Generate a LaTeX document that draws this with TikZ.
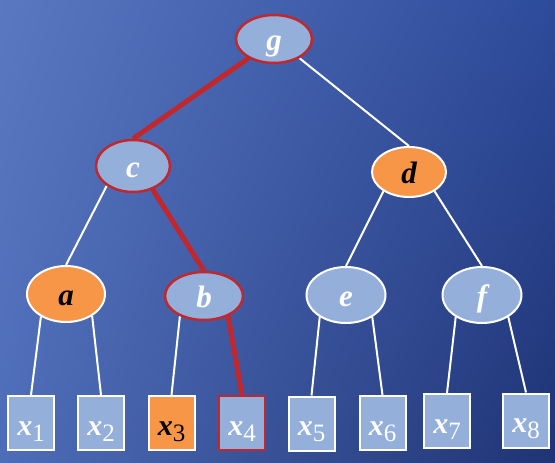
\documentclass[tikz,border=0pt]{standalone}
\usepackage{fontspec}
\setmainfont{Liberation Serif}
\usetikzlibrary{shapes.geometric,shadings,backgrounds}
\definecolor{nodefill}{HTML}{95AFDB}
\definecolor{orangefill}{HTML}{F79646}
\definecolor{hlred}{HTML}{C0282D}
\definecolor{bgul}{HTML}{5A77C1}
\definecolor{bgur}{HTML}{2D4B9B}
\definecolor{bgll}{HTML}{4E6DB8}
\definecolor{bglr}{HTML}{1F3374}
\newcommand\leafx[1]{\textbf{\textit{x}}\raisebox{-0.2em}{\fontsize{25}{25}\selectfont\mdseries\upshape #1}}
\begin{document}
\begin{tikzpicture}[x=1pt,y=-1pt,
  inode/.style={ellipse, draw=white, line width=2pt, fill=nodefill, inner sep=0pt,
    minimum width=76pt, minimum height=50pt, text=white,
    text height=22pt, text depth=0pt,
    font=\fontsize{31}{31}\selectfont\bfseries\itshape},
  leaf/.style={rectangle, draw=white, line width=2pt, fill=nodefill, inner sep=0pt,
    minimum width=46pt, minimum height=54pt, text=white,
    text height=24pt, text depth=0pt,
    font=\fontsize{30}{30}\selectfont},
  hl/.style={draw=hlred, line width=2.5pt},
  orng/.style={fill=orangefill, text=black},
  wedge/.style={draw=white, line width=2pt},
  redge/.style={draw=hlred, line width=5pt}]
\useasboundingbox (0,0) rectangle (555,463);
% internal nodes
\node[inode, hl, minimum width=76pt, minimum height=48pt] (g) at (274,39) {g};
\node[inode, hl, minimum width=74pt, minimum height=52pt] (c) at (133,166) {c};
\node[inode, orng, minimum width=74pt, minimum height=50pt] (d) at (409,172) {d};
\node[inode, orng, minimum width=78pt, minimum height=56pt] (a) at (66,294) {a};
\node[inode, hl, minimum width=78pt, minimum height=48pt] (b) at (204,296) {b};
\node[inode, minimum width=79pt, minimum height=56pt] (e) at (346,295) {e};
\node[inode, minimum width=79pt, minimum height=56pt] (f) at (482,295) {f};
% leaves
\node[leaf] (x1) at (31,423) {\leafx{1}};
\node[leaf] (x2) at (101,423) {\leafx{2}};
\node[leaf, orng] (x3) at (171.5,423) {\leafx{3}};
\node[leaf, hl] (x4) at (242,423) {\leafx{4}};
\node[leaf] (x5) at (311.5,423.5) {\leafx{5}};
\node[leaf] (x6) at (382.5,423) {\leafx{6}};
\node[leaf] (x7) at (447,421) {\leafx{7}};
\node[leaf] (x8) at (526,420.5) {\leafx{8}};
\begin{scope}[on background layer]
  \shade[upper left=bgul, upper right=bgur, lower left=bgll, lower right=bglr]
    (0,0) rectangle (555,463);
  \draw[redge] (g.217) -- (c.north);
  \draw[wedge] (g.323) -- (d.north);
  \draw[wedge] (c.217) -- (a.north);
  \draw[redge] (c.310) -- (b.north);
  \draw[wedge] (d.217) -- (e.north);
  \draw[wedge] (d.323) -- (f.north);
  \draw[wedge] (a.222) -- (x1.north);
  \draw[wedge] (a.320) -- (x2.north);
  \draw[wedge] (b.220) -- (x3.north);
  \draw[redge] (b.320) -- (x4.north);
  \draw[wedge] (e.220) -- (x5.north);
  \draw[wedge] (e.320) -- (x6.north);
  \draw[wedge] (f.220) -- (x7.north);
  \draw[wedge] (f.320) -- (x8.north);
\end{scope}
\end{tikzpicture}
\end{document}
